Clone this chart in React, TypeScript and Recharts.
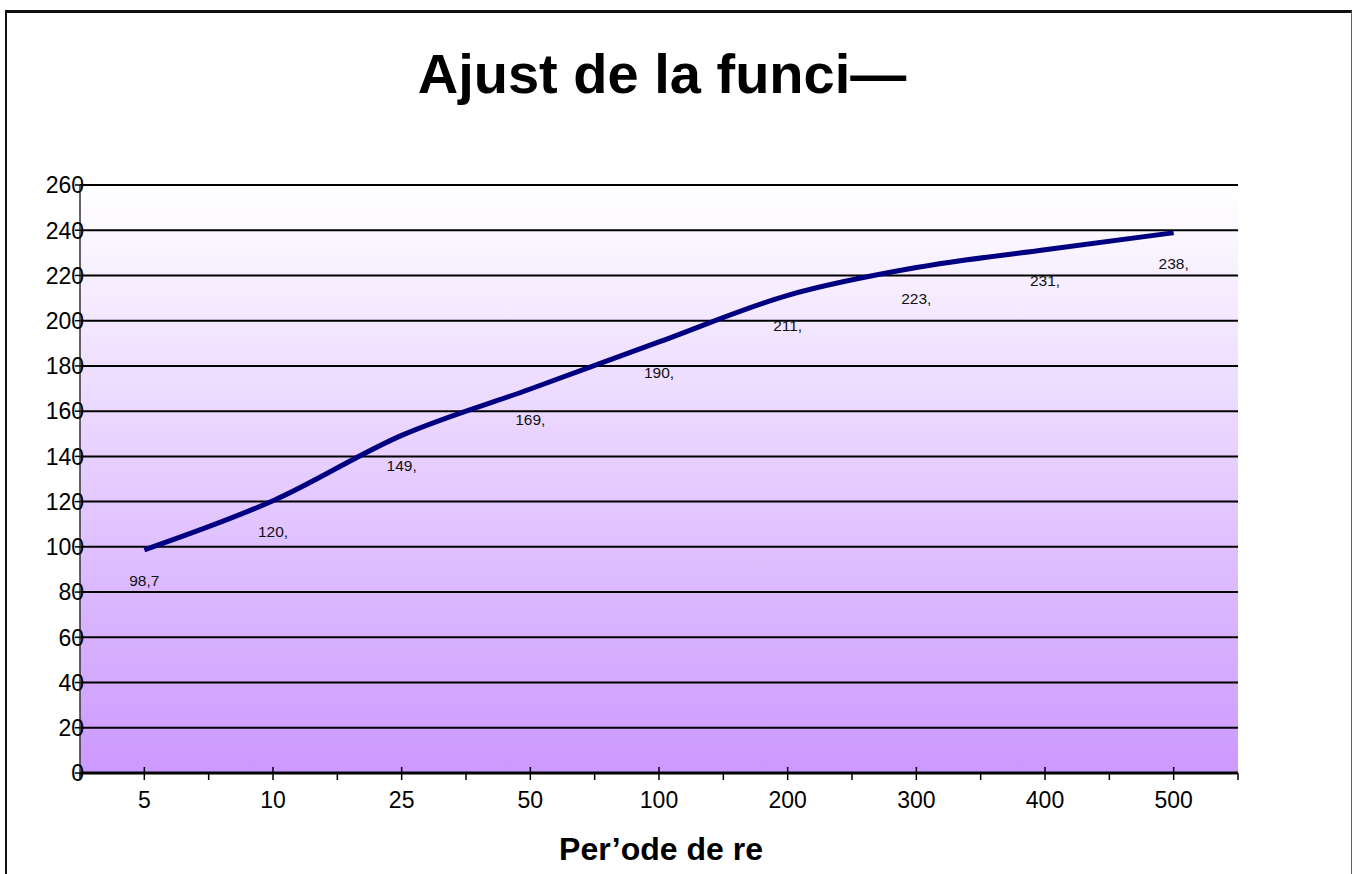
import { LineChart, Line, XAxis, YAxis, CartesianGrid } from 'recharts';

// Return periods (years) and the fitted values
const periods = ['5', '10', '25', '50', '100', '200', '300', '400', '500'];
const adjusted = [98.7, 120.4, 149.3, 169.8, 190.6, 211.2, 223.5, 231.4, 238.9];
const yTicks = [0, 20, 40, 60, 80, 100, 120, 140, 160, 180, 200, 220, 240, 260];

const chartData = periods.map((period, i) => ({ period, value: adjusted[i] }));

const FONT = '"Liberation Sans", Arial, sans-serif';

// The labels are cut after four characters, e.g. "98,7" or "120,"
const shortLabel = (v: number) => String(v).replace('.', ',').slice(0, 4);

function PeriodTick(props: any) {
	const { x, y, payload, index } = props;
	const half = payload?.offset || 64;
	const last = index === periods.length - 1;
	return (
		<g>
			<line x1={x} x2={x} y1={y - 6} y2={y + 7} stroke="#000" strokeWidth={1.5} />
			<line x1={x - half} x2={x - half} y1={y} y2={y + 7} stroke="#000" strokeWidth={1.5} />
			{last && (
				<line x1={x + half} x2={x + half} y1={y} y2={y + 7} stroke="#000" strokeWidth={1.5} />
			)}
			<text x={x} y={y + 35} textAnchor="middle" fontSize={23} fill="#000" fontFamily={FONT}>
				{payload.value}
			</text>
		</g>
	);
}

function ValueTick(props: any) {
	const { x, y, payload } = props;
	return (
		<text x={x + 9} y={y} dy="0.36em" textAnchor="end" fontSize={23} fill="#000" fontFamily={FONT}>
			{payload.value}
		</text>
	);
}

function PointLabel(props: any) {
	const { x, y, value } = props;
	return (
		<text x={x} y={y + 36} textAnchor="middle" fontSize={15.5} fill="#111" fontFamily={FONT}>
			{shortLabel(value)}
		</text>
	);
}

export default function App() {
	return (
		<div
			style={{
				position: 'absolute',
				left: 0,
				top: 0,
				width: 1353,
				height: 874,
				background: '#fff',
				overflow: 'hidden',
				fontFamily: FONT,
			}}
		>
			<div
				style={{
					position: 'absolute',
					left: 5,
					top: 10,
					width: 1347,
					height: 900,
					boxSizing: 'border-box',
					borderTop: '3px solid #111',
					borderLeft: '2px solid #111',
					borderRight: '1px solid #666',
				}}
			/>
			<div style={{ position: 'absolute', left: 0, top: 0 }}>
				<LineChart
					width={1353}
					height={874}
					data={chartData}
					margin={{ top: 185, right: 115, left: 0, bottom: 0 }}
				>
					<defs>
						<linearGradient id="plotFill" x1="0" y1="0" x2="0" y2="1">
							<stop offset="0%" stopColor="#ffffff" />
							<stop offset="100%" stopColor="#cc99ff" />
						</linearGradient>
					</defs>
					<CartesianGrid
						vertical={false}
						stroke="#000"
						strokeWidth={2}
						fill="url(#plotFill)"
						fillOpacity={1}
					/>
					<XAxis
						dataKey="period"
						scale="band"
						height={101}
						axisLine={{ stroke: '#000', strokeWidth: 3 }}
						tickLine={false}
						tickSize={0}
						tickMargin={0}
						tick={<PeriodTick />}
						interval={0}
					/>
					<YAxis
						width={80}
						domain={[0, 260]}
						ticks={yTicks}
						interval={0}
						axisLine={{ stroke: '#333', strokeWidth: 1.5 }}
						tickLine={{ stroke: '#000', strokeWidth: 1.5 }}
						tickSize={5}
						tickMargin={0}
						tick={<ValueTick />}
					/>
					<Line
						dataKey="value"
						type="monotone"
						stroke="#000080"
						strokeWidth={5}
						dot={false}
						activeDot={false}
						label={<PointLabel />}
						isAnimationActive={false}
					/>
				</LineChart>
			</div>
			<svg
				width={1353}
				height={874}
				style={{ position: 'absolute', left: 0, top: 0, pointerEvents: 'none' }}
			>
				<text x={662} y={93} textAnchor="middle" fontSize={56} fontWeight="bold" fontFamily={FONT} fill="#000">
					Ajust de la funci—
				</text>
				<text x={661} y={860} textAnchor="middle" fontSize={32} fontWeight="bold" fontFamily={FONT} fill="#000">
					Per’ode de re
				</text>
			</svg>
		</div>
	);
}
